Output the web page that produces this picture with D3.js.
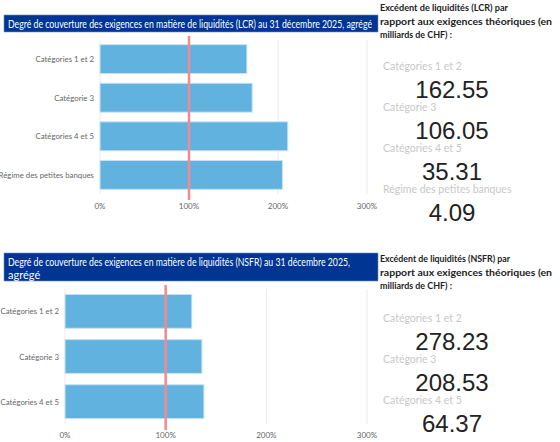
<!DOCTYPE html>
<html><head><meta charset="utf-8">
<script src="https://cdn.jsdelivr.net/npm/d3@7"></script>
<style>body{margin:0;background:#fff}</style>
</head><body>
<svg id="c" width="560" height="442"></svg>
<script>
var lcrCategories = ["Catégories 1 et 2", "Catégorie 3", "Catégories 4 et 5", "Régime des petites banques"];
var lcrValues = [165, 171, 211, 205];
var lcrExcess = ["162.55", "106.05", "35.31", "4.09"];
var nsfrCategories = ["Catégories 1 et 2", "Catégorie 3", "Catégories 4 et 5"];
var nsfrValues = [126, 136, 138];
var nsfrExcess = ["278.23", "208.53", "64.37"];
var ticks = [0, 100, 200, 300];

var svg = d3.select("#c");
var font = "Lato, sans-serif";

function panel(cfg) {
  var g = svg.append("g");
  g.append("rect").attr("x", 4).attr("y", cfg.titleY).attr("width", 374).attr("height", cfg.titleH)
    .attr("fill", "#003594").attr("stroke", "#6c8fd0").attr("stroke-width", 0.6);
  cfg.title.forEach(function (t, i) {
    var tx = g.append("text").attr("x", 8).attr("y", cfg.titleY + 12.5 + i * 13).text(t)
      .attr("fill", "#fff").attr("font-family", font).attr("font-size", 11);
    if (cfg.titleW[i]) tx.attr("textLength", cfg.titleW[i]).attr("lengthAdjust", "spacingAndGlyphs");
  });

  var x = d3.scaleLinear().domain([0, 300]).range(cfg.xr);
  var y = d3.scaleBand().domain(cfg.cats).range(cfg.yr).paddingInner(0.25).paddingOuter(0.12);

  g.selectAll(".grid").data(ticks).enter().append("line")
    .attr("x1", x).attr("x2", x).attr("y1", cfg.yr[0]).attr("y2", cfg.yr[1])
    .attr("stroke", "#ececec");
  g.selectAll(".bar").data(cfg.vals).enter().append("rect")
    .attr("x", x(0)).attr("y", function (d, i) { return y(cfg.cats[i]); })
    .attr("width", function (d) { return x(d) - x(0); }).attr("height", y.bandwidth())
    .attr("fill", "#62b2df").attr("stroke", "#c9e4f4").attr("stroke-width", 1);
  g.append("line").attr("x1", x(100)).attr("x2", x(100)).attr("y1", cfg.yr[0] - 4).attr("y2", cfg.yr[1] + 6)
    .attr("stroke", "#f4888d").attr("stroke-width", 2.5);

  g.selectAll(".cl").data(cfg.cats).enter().append("text")
    .attr("x", x(0) - 6).attr("y", function (d) { return y(d) + y.bandwidth() / 2 + 3; })
    .attr("text-anchor", "end").attr("fill", "#666").attr("font-family", font).attr("font-size", 7.8)
    .text(function (d) { return d; });
  g.selectAll(".tl").data(ticks).enter().append("text")
    .attr("x", x).attr("y", cfg.tickY).attr("text-anchor", "middle")
    .attr("fill", "#666").attr("font-family", font).attr("font-size", 8)
    .text(function (d) { return d + "%"; });

  cfg.side.forEach(function (t, i) {
    g.append("text").attr("x", 380).attr("y", cfg.sideY + i * 13.5).text(t)
      .attr("fill", "#222").attr("font-family", font).attr("font-weight", "bold").attr("font-size", 9.6)
      .attr("textLength", cfg.sideW[i]).attr("lengthAdjust", "spacingAndGlyphs");
  });
  cfg.cats.forEach(function (c, i) {
    g.append("text").attr("x", 383).attr("y", cfg.labY + i * cfg.step).text(c)
      .attr("fill", "#c8c8c8").attr("font-family", font).attr("font-size", 10.5);
    g.append("text").attr("x", 452).attr("y", cfg.labY + 28 + i * cfg.step).text(cfg.excess[i])
      .attr("text-anchor", "middle").attr("fill", "#222").attr("font-family", "'Liberation Sans', Arial, sans-serif")
      .attr("font-size", 24);
  });
}

panel({
  title: ["Degré de couverture des exigences en matière de liquidités (LCR) au 31 décembre 2025, agrégé"],
  titleW: [364], titleY: 15, titleH: 17, xr: [100, 367], yr: [40, 194], cats: lcrCategories, vals: lcrValues, tickY: 209,
  side: ["Excédent de liquidités (LCR) par", "rapport aux exigences théoriques (en", "milliards de CHF) :"],
  sideW: [128, 172, 72], sideY: 11, labY: 70, step: 41, excess: lcrExcess
});
panel({
  title: ["Degré de couverture des exigences en matière de liquidités (NSFR) au 31 décembre 2025,", "agrégé"],
  titleW: [342, 0], titleY: 253, titleH: 28, xr: [65, 367], yr: [289, 424], cats: nsfrCategories, vals: nsfrValues, tickY: 438,
  side: ["Excédent de liquidités (NSFR) par", "rapport aux exigences théoriques (en", "milliards de CHF) :"],
  sideW: [130, 172, 72], sideY: 262, labY: 322, step: 41, excess: nsfrExcess
});
</script>
</body></html>
